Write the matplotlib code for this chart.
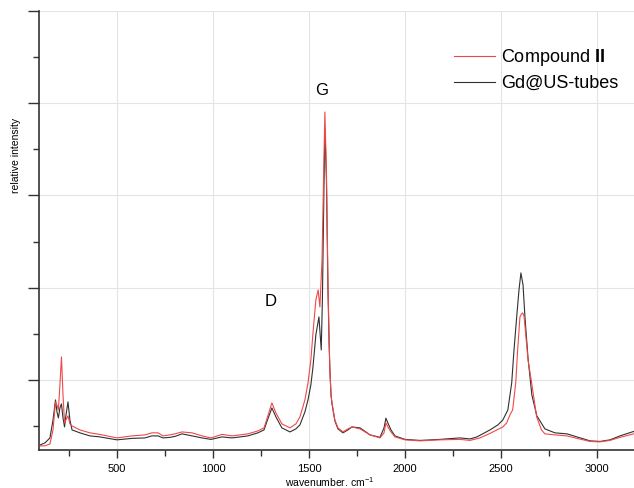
import matplotlib
matplotlib.use("Agg")
import matplotlib.pyplot as plt
from matplotlib.ticker import MultipleLocator, NullFormatter

plt.rcParams['font.family'] = ['Liberation Sans', 'DejaVu Sans']
plt.rcParams['mathtext.fontset'] = 'custom'
plt.rcParams['mathtext.rm'] = 'Liberation Sans'
plt.rcParams['mathtext.bf'] = 'Liberation Sans:bold'

# Raman spectrum, Compound II (red)
wn_red = [100, 125, 151, 167, 180, 187.5, 195, 203, 211, 219, 227, 234, 245, 255, 266,
          307, 359, 411, 500, 578, 646, 682, 714, 740, 776, 802, 839, 891, 943, 990,
          1047, 1099, 1182, 1234, 1266, 1286, 1307, 1328, 1359, 1401, 1432, 1453, 1479,
          1495, 1510, 1521, 1536, 1548, 1557, 1568, 1576, 1583, 1591, 1599, 1605, 1609,
          1615, 1620, 1635, 1651, 1677, 1703, 1724, 1766, 1818, 1870, 1891, 1901, 1911,
          1927, 1948, 2000, 2078, 2182, 2286, 2339, 2391, 2443, 2479, 2510, 2530, 2547,
          2561, 2577, 2587, 2599, 2607, 2613, 2620, 2627, 2641, 2660, 2686, 2711, 2729,
          2781, 2844, 2896, 2964, 3016, 3068, 3120, 3200]
int_red = [0.285, 0.285, 0.306, 0.458, 0.762, 0.729, 0.675, 0.946, 1.249, 0.837, 0.534,
           0.566, 0.610, 0.523, 0.501, 0.458, 0.426, 0.409, 0.371, 0.393, 0.404, 0.426,
           0.426, 0.393, 0.404, 0.415, 0.436, 0.426, 0.393, 0.371, 0.409, 0.393, 0.415,
           0.447, 0.480, 0.610, 0.751, 0.642, 0.523, 0.480, 0.523, 0.599, 0.783, 0.967,
           1.217, 1.510, 1.867, 1.976, 1.791, 2.30, 3.17, 3.905, 3.28, 2.084, 1.434,
           1.108, 0.837, 0.751, 0.566, 0.480, 0.436, 0.469, 0.490, 0.469, 0.404, 0.371,
           0.426, 0.534, 0.490, 0.436, 0.382, 0.350, 0.339, 0.350, 0.355, 0.344, 0.371,
           0.420, 0.458, 0.490, 0.534, 0.621, 0.675, 0.967, 1.325, 1.683, 1.715, 1.726,
           1.694, 1.542, 1.217, 0.967, 0.599, 0.458, 0.415, 0.404, 0.393, 0.366, 0.333,
           0.328, 0.344, 0.377, 0.420]

# Raman spectrum, Gd@US-tubes (black)
wn_blk = [100, 125, 151, 167, 180, 187.5, 195, 203, 211, 219, 227, 234, 245, 255, 266,
          307, 359, 411, 500, 578, 646, 682, 714, 740, 776, 802, 839, 891, 943, 990,
          1047, 1099, 1182, 1234, 1266, 1286, 1307, 1328, 1359, 1401, 1432, 1453, 1479,
          1495, 1510, 1521, 1536, 1552, 1564, 1570, 1578, 1583, 1591, 1599, 1605, 1609,
          1615, 1620, 1635, 1651, 1677, 1703, 1724, 1766, 1818, 1870, 1891, 1901, 1911,
          1927, 1948, 2000, 2078, 2182, 2286, 2339, 2375, 2443, 2484, 2510, 2536, 2556,
          2568, 2582, 2594, 2604, 2615, 2625, 2641, 2661, 2687, 2729, 2781, 2844, 2896,
          2964, 3016, 3068, 3120, 3200]
int_blk = [0.295, 0.317, 0.371, 0.566, 0.783, 0.653, 0.588, 0.696, 0.740, 0.588, 0.490,
           0.610, 0.762, 0.566, 0.458, 0.426, 0.393, 0.382, 0.350, 0.366, 0.371, 0.393,
           0.393, 0.371, 0.377, 0.387, 0.415, 0.393, 0.371, 0.355, 0.382, 0.371, 0.393,
           0.426, 0.458, 0.577, 0.696, 0.599, 0.480, 0.436, 0.469, 0.512, 0.653, 0.783,
           0.946, 1.141, 1.488, 1.683, 1.325, 1.867, 3.06, 3.73, 3.17, 1.976, 1.400,
           1.108, 0.837, 0.740, 0.555, 0.469, 0.426, 0.458, 0.490, 0.480, 0.404, 0.377,
           0.480, 0.585, 0.534, 0.458, 0.393, 0.355, 0.344, 0.355, 0.371, 0.360, 0.382,
           0.458, 0.512, 0.566, 0.675, 0.967, 1.325, 1.683, 1.976, 2.16, 2.03, 1.683,
           1.238, 0.837, 0.610, 0.469, 0.426, 0.415, 0.382, 0.339, 0.333, 0.350, 0.393,
           0.447]

labels = [r"Compound $\mathbf{II}$", "Gd@US-tubes"]

fig = plt.figure(figsize=(6.34, 4.88), dpi=100)
ax = fig.add_axes([39/634, 38/488, 595/634, 439/488])

ax.plot(wn_blk, int_blk, color='#303030', lw=0.8, label=labels[1], zorder=3)
ax.plot(wn_red, int_red, color='#f04848', lw=0.8, label=labels[0], zorder=4)

ax.set_xlim(94, 3193)
ax.set_ylim(0.24, 5.0)
ax.xaxis.set_major_locator(MultipleLocator(500))
ax.xaxis.set_minor_locator(MultipleLocator(250))
ax.yaxis.set_major_locator(MultipleLocator(1))
ax.yaxis.set_minor_locator(MultipleLocator(0.5))
ax.yaxis.set_major_formatter(NullFormatter())
ax.grid(True, which='major', color='#e4e4e4', lw=0.8, zorder=0)
ax.set_axisbelow(True)

for s in ['top', 'right']:
    ax.spines[s].set_visible(False)
for s in ['left', 'bottom']:
    ax.spines[s].set_color('#333333')
    ax.spines[s].set_linewidth(1.2)

ax.tick_params(axis='x', which='major', length=6, width=1, color='#333333',
               labelsize=8, pad=4)
ax.tick_params(axis='x', which='minor', length=4, width=1, color='#333333')
ax.tick_params(axis='y', which='major', length=8, width=1, color='#333333')
ax.tick_params(axis='y', which='minor', length=4, width=1, color='#333333')

ax.set_xlabel(r"wavenumber. cm$^{-1}$", fontsize=7.5, va='top')
ax.xaxis.set_label_coords(0.489, -0.058)
ax.set_ylabel("relative intensity", fontsize=7.5)
ax.yaxis.set_label_coords(-0.030, 0.672)

ax.text(1302, 1.846, "D", fontsize=12, ha='center', va='center')
ax.text(1568, 4.14, "G", fontsize=12, ha='center', va='center')

h, l = ax.get_legend_handles_labels()
leg = ax.legend(h[::-1], l[::-1], loc='upper left', frameon=False, fontsize=13,
                handlelength=2.28, handletextpad=0.33, labelspacing=0.38,
                borderpad=0, borderaxespad=0,
                bbox_to_anchor=(454/634, 1 - 47/488), bbox_transform=fig.transFigure)

fig.savefig("out.png", dpi=100)
